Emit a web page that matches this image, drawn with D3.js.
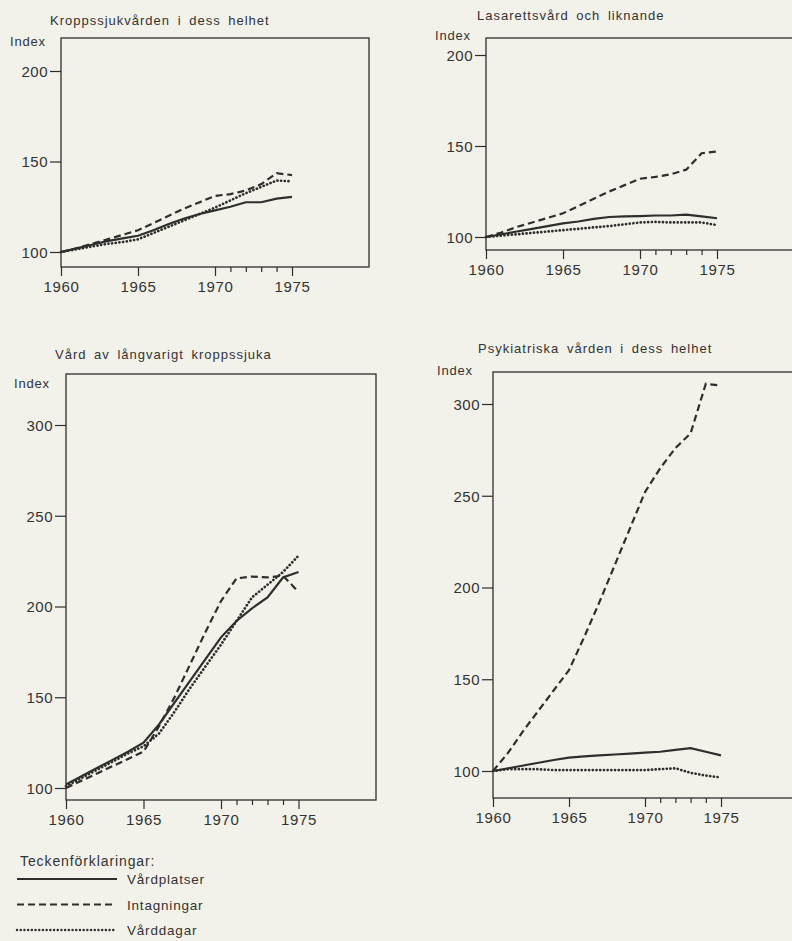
<!DOCTYPE html>
<html>
<head>
<meta charset="utf-8">
<script src="https://cdn.jsdelivr.net/npm/d3@7"></script>
<style>
  body { margin: 0; background: #f2f1ea; }
  svg { display: block; }
  text { font-family: "Liberation Sans", Arial, sans-serif; fill: #333; }
</style>
</head>
<body>
<svg width="792" height="941"></svg>
<script>
// ar 1960-1975
const years = [1960, 1961, 1962, 1963, 1964, 1965, 1966, 1967, 1968, 1969, 1970, 1971, 1972, 1973, 1974, 1975];

// Kroppssjukvården i dess helhet
const kroppPlatser = [100, 102, 104, 106, 107.5, 109, 112, 115.5, 118.5, 121, 123, 125, 127.5, 127.5, 129.5, 130.5];
const kroppIntag   = [100, 102, 104.5, 107, 109.5, 112, 116, 120, 124, 127.5, 131, 132, 134, 137.5, 143.5, 142.5];
const kroppDagar   = [100, 101.5, 103, 104.5, 105.5, 107, 110.5, 114, 117.5, 121, 124.5, 128.5, 132.5, 136, 139.5, 139];

// Lasarettsvård och liknande
const lasPlatser = [100, 101.5, 103, 104.5, 106, 107.5, 108.5, 110, 111, 111.3, 111.5, 111.8, 111.8, 112.3, 111.3, 110.3];
const lasIntag   = [100, 102.5, 105.5, 108, 110.5, 113, 117, 121, 125, 128.5, 132, 133, 134.5, 137, 146, 147];
const lasDagar   = [100, 100.8, 101.5, 102.3, 103, 103.8, 104.5, 105.3, 106, 107, 108, 108.3, 108, 108, 108, 106.5];

// Vård av långvarigt kroppssjuka
const langPlatser = [102, 106.5, 111, 115.5, 120, 125, 135, 147, 159, 171, 183, 192, 199, 205, 216, 219];
const langIntag   = [100, 104, 108, 112, 116, 120, 134, 150, 168, 186, 203, 215.5, 216.5, 216, 217, 208];
const langDagar   = [101, 105.5, 110, 114.5, 119, 123, 130, 142, 155, 167, 179, 192, 205, 212, 219, 228];

// Psykiatriska vården i dess helhet
const psykPlatser = [100, 101.5, 103, 104.5, 106, 107.3, 108, 108.5, 109, 109.5, 110, 110.5, 111.5, 112.5, 110.5, 108.5];
const psykIntag   = [100, 110, 122, 133, 144, 155, 173, 192, 212, 232, 252, 265, 276, 284, 311, 310];
const psykDagar   = [100, 101, 101, 101, 100.5, 100.5, 100.5, 100.5, 100.5, 100.5, 100.5, 101, 101.5, 99, 97.5, 96.5];

const titles = ["Kroppssjukvården i dess helhet", "Lasarettsvård och liknande",
                "Vård av långvarigt kroppssjuka", "Psykiatriska vården i dess helhet"];
const yTicksSmall = [100, 150, 200];
const yTicksLarge = [100, 150, 200, 250, 300];
const xMajor = [1960, 1965, 1970, 1975];
const xMinor = [1971, 1972, 1973, 1974];
const legendLabels = ["Vårdplatser", "Intagningar", "Vårddagar"];

const ink = "#2e2e2e";
const dashes = [null, "7,4", "0.1,3.6"];

const svg = d3.select("svg");

function drawPanel(p) {
  const x = d3.scaleLinear().domain([1960, 1980]).range(p.xr);
  const y = d3.scaleLinear().domain(p.yd).range(p.yr);
  const g = svg.append("g");

  // ram
  g.append("rect")
    .attr("x", x(1960)).attr("y", p.top)
    .attr("width", x(1980) - x(1960)).attr("height", p.bottom - p.top)
    .attr("fill", "none").attr("stroke", ink).attr("stroke-width", 1.3);

  const ya = g.append("g").attr("transform", `translate(${x(1960)},0)`)
    .call(d3.axisLeft(y).tickValues(p.yticks).tickSize(11).tickPadding(2).tickFormat(d3.format("d")));
  ya.select(".domain").remove();
  ya.selectAll("line").attr("stroke", ink).attr("stroke-width", 1.2);
  ya.selectAll("text").attr("font-size", 15).attr("letter-spacing", 0.5).attr("fill", ink)
    .attr("font-family", "Liberation Sans").attr("dy", "0.36em");

  const xa = g.append("g").attr("transform", `translate(0,${p.bottom})`)
    .call(d3.axisBottom(x).tickValues(xMajor).tickSize(9).tickPadding(5).tickFormat(d3.format("d")));
  xa.select(".domain").remove();
  xa.selectAll("line").attr("stroke", ink).attr("stroke-width", 1.2);
  xa.selectAll("text").attr("font-size", 15).attr("letter-spacing", 0.6).attr("fill", ink)
    .attr("font-family", "Liberation Sans");

  const xm = g.append("g").attr("transform", `translate(0,${p.bottom})`)
    .call(d3.axisBottom(x).tickValues(xMinor).tickSize(5).tickFormat(""));
  xm.select(".domain").remove();
  xm.selectAll("line").attr("stroke", ink).attr("stroke-width", 1.2);

  g.append("text").attr("x", p.tx).attr("y", p.ty)
    .attr("font-size", 13).attr("letter-spacing", 1).attr("word-spacing", 3)
    .text(p.title);
  g.append("text").attr("x", p.ix).attr("y", p.iy)
    .attr("font-size", 13).attr("letter-spacing", 0.8).text("Index");

  const line = d3.line().x((d, i) => x(years[i])).y(d => y(d));
  p.series.forEach((s, k) => {
    g.append("path").datum(s)
      .attr("d", line)
      .attr("fill", "none").attr("stroke", ink)
      .attr("stroke-width", k === 2 ? 2.7 : 2.2)
      .attr("stroke-linecap", k === 2 ? "round" : "butt")
      .attr("stroke-dasharray", dashes[k]);
  });
}

drawPanel({ xr: [61, 369], yd: [100, 200], yr: [252, 71], top: 38, bottom: 267,
  yticks: yTicksSmall, title: titles[0], tx: 50, ty: 25, ix: 10, iy: 46,
  series: [kroppPlatser, kroppIntag, kroppDagar] });
drawPanel({ xr: [486, 794], yd: [100, 200], yr: [237, 55], top: 38, bottom: 250,
  yticks: yTicksSmall, title: titles[1], tx: 477, ty: 20, ix: 435, iy: 40,
  series: [lasPlatser, lasIntag, lasDagar] });
drawPanel({ xr: [66, 376], yd: [100, 300], yr: [788, 425], top: 374, bottom: 800,
  yticks: yTicksLarge, title: titles[2], tx: 55, ty: 359, ix: 14, iy: 388,
  series: [langPlatser, langIntag, langDagar] });
drawPanel({ xr: [493, 797], yd: [100, 300], yr: [771, 404], top: 372, bottom: 798,
  yticks: yTicksLarge, title: titles[3], tx: 478, ty: 353, ix: 437, iy: 375,
  series: [psykPlatser, psykIntag, psykDagar] });

// teckenförklaring
const lg = svg.append("g");
lg.append("text").attr("x", 20).attr("y", 866).attr("font-size", 14).attr("letter-spacing", 0.9)
  .text("Teckenförklaringar:");
const legY = d3.scalePoint().domain(legendLabels).range([879, 930]);
legendLabels.forEach((lab, k) => {
  lg.append("line").attr("x1", 17).attr("x2", k === 0 ? 117 : 114)
    .attr("y1", legY(lab)).attr("y2", legY(lab))
    .attr("stroke", ink).attr("stroke-width", k === 2 ? 2.4 : 2.2)
    .attr("stroke-linecap", k === 2 ? "round" : "butt")
    .attr("stroke-dasharray", dashes[k]);
  lg.append("text").attr("x", 127).attr("y", legY(lab) + 5)
    .attr("font-size", 13.5).attr("letter-spacing", 0.8).text(lab);
});
</script>
</body>
</html>
